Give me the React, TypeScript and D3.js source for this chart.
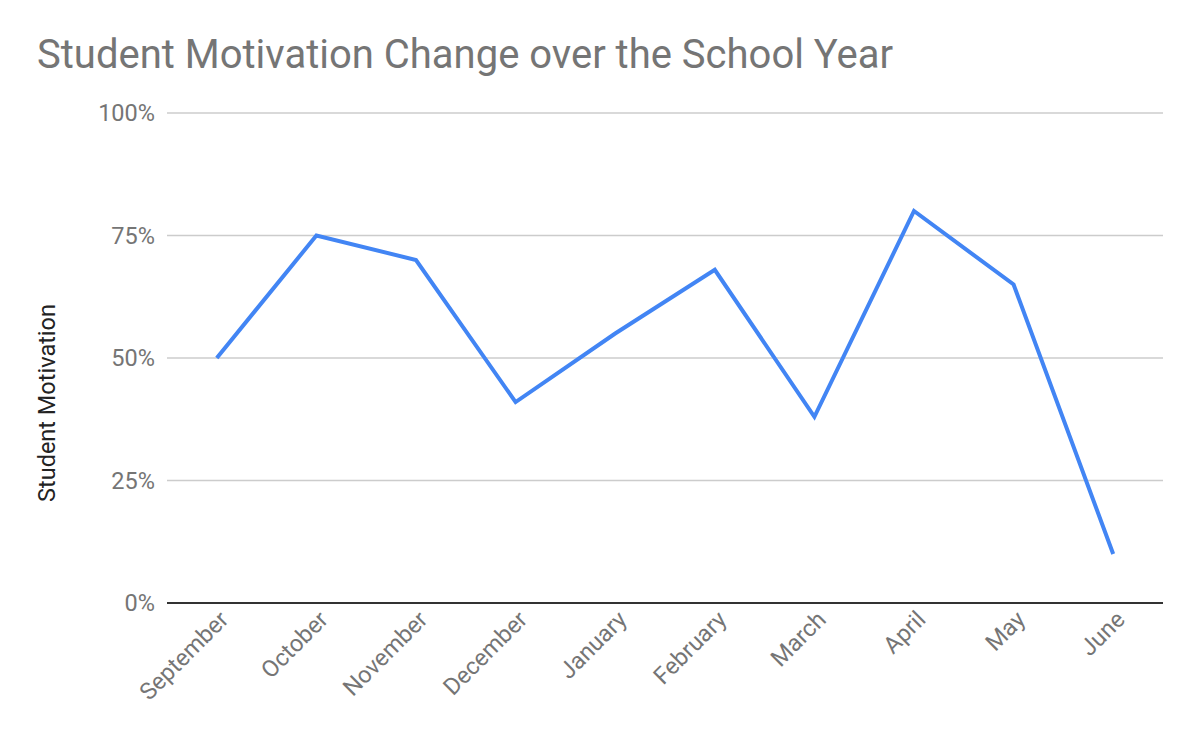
import React from "react";
import * as d3 from "d3";

const months = ["September", "October", "November", "December", "January", "February", "March", "April", "May", "June"];
const motivation = [50, 75, 70, 41, 55, 68, 38, 80, 65, 10];
const yTicks = [0, 25, 50, 75, 100];

const W = 1200;
const H = 742;
const left = 167;
const right = 1163;
const top = 113;
const bottom = 603;
const FONT = "Roboto, 'Noto Sans', sans-serif";

export default function App() {
  const x = d3.scaleBand<string>().domain(months).range([left, right]);
  const y = d3.scaleLinear().domain([0, 100]).range([bottom, top]);
  const line = d3
    .line<number>()
    .x((_, i) => (x(months[i]) as number) + x.bandwidth() / 2)
    .y((d) => y(d));

  return (
    <svg
      width={W}
      height={H}
      style={{ position: "absolute", left: 0, top: 0, background: "#fff" }}
      fontFamily={FONT}
    >
      <text x={37} y={68} fontSize={40} fill="#757575">
        Student Motivation Change over the School Year
      </text>
      {yTicks.map((t) => (
        <g key={t}>
          {t !== 0 && (
            <line x1={left} x2={right} y1={y(t)} y2={y(t)} stroke="#cccccc" strokeWidth={1.7} />
          )}
          <text x={155} y={y(t)} dy="0.36em" textAnchor="end" fontSize={23.5} fill="#757575">
            {t}%
          </text>
        </g>
      ))}
      <line x1={left} x2={right} y1={y(0)} y2={y(0)} stroke="#333333" strokeWidth={2} />
      <text
        transform={`translate(55, 403) rotate(-90)`}
        textAnchor="middle"
        fontSize={23.5}
        fill="#222222"
      >
        Student Motivation
      </text>
      <path d={line(motivation) || ""} fill="none" stroke="#4285F4" strokeWidth={4} strokeLinejoin="miter" />
      {months.map((m) => {
        const cx = (x(m) as number) + x.bandwidth() / 2;
        return (
          <text
            key={m}
            transform={`translate(${cx + 13}, 621) rotate(-45)`}
            textAnchor="end"
            fontSize={23.5}
            fill="#757575"
          >
            {m}
          </text>
        );
      })}
    </svg>
  );
}
